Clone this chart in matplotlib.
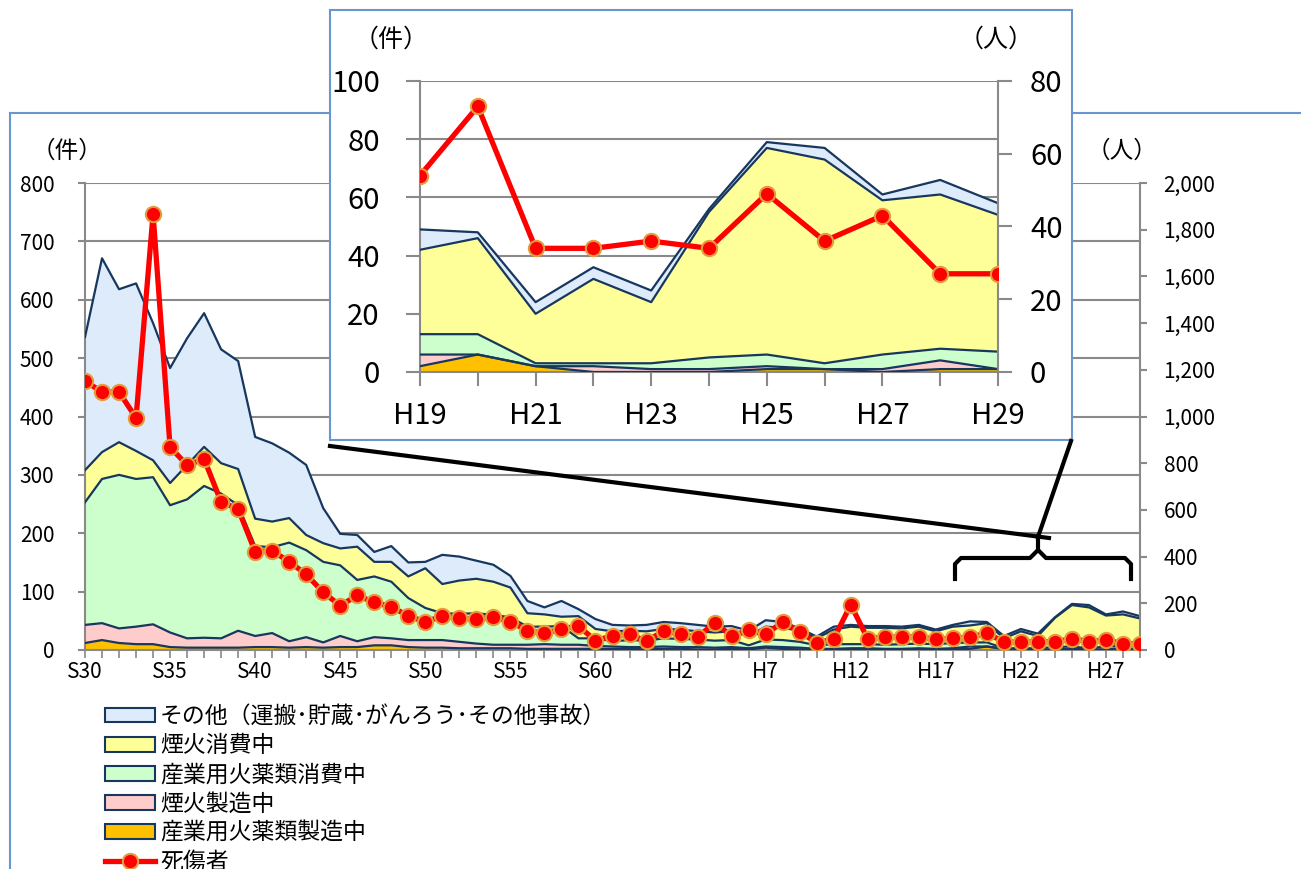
import matplotlib
matplotlib.use('Agg')
import matplotlib.pyplot as plt
import numpy as np
from matplotlib.patches import Rectangle, Patch
from matplotlib.lines import Line2D
from matplotlib.ticker import FuncFormatter

plt.rcParams['font.family'] = ['Noto Sans CJK JP', 'DejaVu Sans']

# ---------------- data ----------------
years = [f'S{i}' for i in range(30, 64)] + [f'H{i}' for i in range(1, 30)]

# 産業用火薬類製造中 (件)
ind_make = [12, 17, 12, 10, 10, 5, 4, 4, 4, 4,
            5, 5, 4, 5, 4, 5, 5, 8, 8, 5,
            4, 4, 3, 3, 3, 3, 2, 2, 2, 2,
            2, 2, 2, 1,
            2, 2, 1, 1, 2, 1, 4, 2, 1, 1,
            1, 1, 1, 1, 1, 1, 1, 1, 2, 6,
            2, 0, 0, 0, 1, 1, 0, 1, 1]
# 煙火製造中 (件)
fw_make = [31, 29, 25, 30, 34, 25, 16, 17, 16, 29,
           19, 24, 11, 17, 9, 19, 10, 14, 12, 12,
           13, 13, 11, 8, 6, 6, 7, 8, 7, 7,
           5, 4, 3, 4,
           4, 3, 4, 3, 3, 2, 2, 3, 3, 1,
           1, 2, 2, 1, 1, 2, 1, 2, 4, 0,
           0, 2, 1, 1, 1, 0, 1, 3, 0]
# 産業用火薬類消費中 (件)
ind_use = [210, 247, 263, 253, 252, 218, 238, 260, 248, 215,
           154, 147, 169, 149, 138, 121, 105, 104, 97, 72,
           55, 46, 48, 52, 51, 47, 31, 30, 32, 11,
           13, 9, 12, 11,
           14, 14, 13, 12, 12, 5, 12, 12, 10, 6,
           8, 7, 7, 7, 8, 8, 8, 9, 7, 7,
           1, 1, 2, 4, 4, 2, 5, 4, 6]
# 煙火消費中 (件)
fw_use = [55, 46, 56, 48, 29, 38, 59, 67, 52, 62,
          47, 44, 42, 26, 32, 29, 57, 25, 34, 37,
          68, 50, 57, 59, 57, 51, 23, 21, 16, 38,
          16, 17, 16, 16,
          16, 16, 14, 14, 15, 16, 22, 21, 19, 12,
          25, 30, 28, 29, 27, 29, 22, 28, 29, 33,
          17, 29, 21, 50, 71, 70, 53, 53, 47]
# その他 (件)
other = [228, 332, 262, 287, 235, 197, 217, 229, 195, 185,
         140, 134, 112, 120, 60, 25, 20, 17, 27, 24,
         11, 50, 41, 31, 29, 20, 21, 12, 27, 12,
         17, 11, 9, 11,
         12, 11, 11, 10, 9, 9, 11, 10, 4, 3,
         5, 3, 3, 3, 3, 3, 3, 3, 7, 2,
         4, 4, 4, 1, 2, 4, 2, 5, 4]
# 死傷者 (人)
casualties = [1152, 1105, 1105, 994, 1867, 869, 792, 818, 634, 604,
              421, 425, 378, 324, 247, 190, 234, 204, 185, 146,
              120, 146, 136, 131, 143, 121, 83, 71, 90, 103,
              40, 61, 67, 38,
              81, 68, 54, 117, 60, 84, 67, 120, 78, 31,
              47, 194, 48, 55, 56, 56, 46, 50, 54, 73,
              34, 34, 36, 34, 49, 36, 43, 27, 27]

series_labels = ['産業用火薬類製造中', '煙火製造中', '産業用火薬類消費中', '煙火消費中',
                 'その他（運搬･貯蔵･がんろう･その他事故）']
line_label = '死傷者'
colors = ['#FFC000', '#FFCCCC', '#CCFFCC', '#FFFF99', '#DDEBFB']
NAVY = '#17375E'
GRAY = '#898989'
FRAME = '#6A96CF'
MEC = '#E39B3C'

W, H = 1307, 869
fig = plt.figure(figsize=(W / 100, H / 100), dpi=100)


def fr(x0, y0, x1, y1):
    return [x0 / W, 1 - y1 / H, (x1 - x0) / W, (y1 - y0) / H]


def fx(x):
    return x / W


def fy(y):
    return 1 - y / H


# outer frame of main chart
fig.add_artist(Line2D([fx(10), fx(10)], [0, fy(113)], color=FRAME, lw=1.5))
fig.add_artist(Line2D([fx(10), fx(1300)], [fy(113), fy(113)], color=FRAME, lw=1.5))

stack = [ind_make, fw_make, ind_use, fw_use, other]


def draw_stack(ax, idx):
    xs = np.arange(len(idx))
    vals = [np.array(s)[idx] for s in stack]
    ax.stackplot(xs, *vals, colors=colors, linewidth=0, zorder=2)
    cum = np.cumsum(np.vstack(vals), axis=0)
    for row in cum:
        ax.plot(xs, row, color=NAVY, lw=1.6, zorder=3)
    return xs


def style_axes(ax, ax2):
    ax.spines['top'].set_visible(False)
    ax2.spines['top'].set_visible(False)
    for s in ['left', 'bottom']:
        ax.spines[s].set_color(GRAY)
        ax.spines[s].set_linewidth(1.5)
        ax2.spines[s].set_visible(False)
    ax2.spines['right'].set_color(GRAY)
    ax2.spines['right'].set_linewidth(1.5)
    ax.spines['right'].set_visible(False)
    ax.grid(axis='y', color=GRAY, lw=1.5)
    ax.set_axisbelow(True)


# ---------------- main chart ----------------
ax = fig.add_axes(fr(85, 183, 1140, 650))
idx_all = np.arange(len(years))
xs = draw_stack(ax, idx_all)
ax.set_xlim(0, len(years) - 1)
ax.set_ylim(0, 800)
ax.set_yticks(range(0, 801, 100))
ax.set_xticks(xs)
ax.set_xticklabels([y if i % 5 == 0 else '' for i, y in enumerate(years)])
ax2 = ax.twinx()
ax2.plot(xs, casualties, color='#FF0000', lw=3.8, marker='o', ms=11,
         mfc='#FF0000', mec=MEC, mew=1.5, zorder=5)
ax2.set_ylim(0, 2000)
ax2.set_yticks(range(0, 2001, 200))
ax2.yaxis.set_major_formatter(FuncFormatter(lambda v, p: f'{int(v):,}'))
style_axes(ax, ax2)
ax.tick_params(axis='y', length=5, width=1.5, color=GRAY, pad=17, labelsize=15)
ax.tick_params(axis='x', length=6, width=1.2, color=GRAY, pad=2, labelsize=15)
ax2.tick_params(axis='y', length=5, width=1.5, color=GRAY, pad=12, labelsize=15)
fig.text(fx(67), fy(151), '（件）', ha='center', va='center', fontsize=17)
fig.text(fx(1122), fy(151), '（人）', ha='center', va='center', fontsize=17)

# legend
handles = [Patch(facecolor=colors[i], edgecolor=NAVY, lw=1.5) for i in range(4, -1, -1)]
handles.append(Line2D([0], [0], color='#FF0000', lw=3.8, marker='o', ms=11,
                      mfc='#FF0000', mec=MEC, mew=1.5))
labels = [series_labels[i] for i in range(4, -1, -1)] + [line_label]
fig.legend(handles, labels, loc='upper left', bbox_to_anchor=(fx(105), fy(705)),
           frameon=False, fontsize=16.5, handlelength=2.2, handleheight=0.62,
           handletextpad=0.2, labelspacing=0.27, borderpad=0, borderaxespad=0)

# ---------------- inset ----------------
fig.add_artist(Rectangle((fx(330), fy(440)), (1072 - 330) / W, 430 / H,
                         transform=fig.transFigure, facecolor='white',
                         edgecolor=FRAME, lw=1.5, zorder=5))
ia = fig.add_axes(fr(420, 81, 998, 372))
ia.set_zorder(6)
idx_in = np.arange(len(years) - 11, len(years))
xi = draw_stack(ia, idx_in)
ia.set_xlim(0, 10)
ia.set_ylim(0, 100)
ia.set_yticks(range(0, 101, 20))
ia.set_xticks(xi)
ia.set_xticklabels([years[j] if k % 2 == 0 else '' for k, j in enumerate(idx_in)])
ia2 = ia.twinx()
ia2.set_zorder(7)
ia2.plot(xi, np.array(casualties)[idx_in], color='#FF0000', lw=3.8, marker='o', ms=11,
         mfc='#FF0000', mec=MEC, mew=1.5, zorder=5)
ia2.set_ylim(0, 80)
ia2.set_yticks(range(0, 81, 20))
style_axes(ia, ia2)
ia.tick_params(axis='y', length=10, width=1.5, color=GRAY, pad=19, labelsize=21)
ia.tick_params(axis='x', length=10, width=1.5, color=GRAY, pad=11, labelsize=21)
ia2.tick_params(axis='y', length=10, width=1.5, color=GRAY, pad=13, labelsize=21)
fig.text(fx(391), fy(40), '（件）', ha='center', va='center', fontsize=18, zorder=8)
fig.text(fx(996), fy(40), '（人）', ha='center', va='center', fontsize=18, zorder=8)

# connector lines and brace
fig.add_artist(Line2D([fx(330), fx(1049)], [fy(446), fy(538)], color='black', lw=3, zorder=10))
fig.add_artist(Line2D([fx(1071), fx(1038)], [fy(441), fy(537)], color='black', lw=3, zorder=10))
brace = [(955, 579), (955, 564), (961, 558), (1030, 558), (1038, 550),
         (1046, 558), (1125, 558), (1131, 564), (1131, 579)]
bx = [fx(p[0]) for p in brace]
by = [fy(p[1]) for p in brace]
fig.add_artist(Line2D(bx, by, color='black', lw=3, zorder=10, solid_joinstyle='round'))
fig.add_artist(Line2D([fx(1038), fx(1038)], [fy(550), fy(536)], color='black', lw=3, zorder=10))

fig.savefig('out.png', dpi=100)
